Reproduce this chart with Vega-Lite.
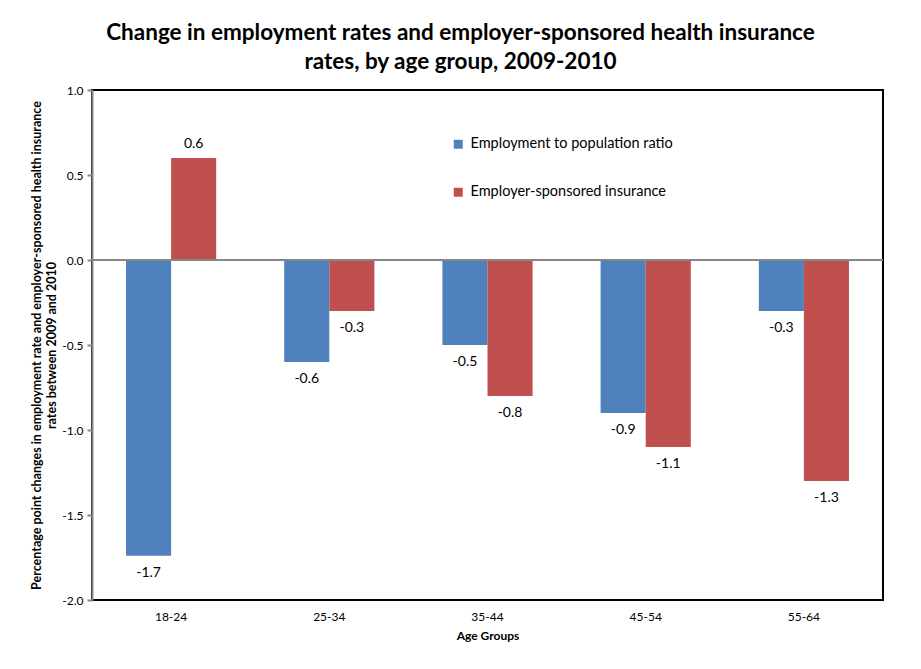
{
  "$schema": "https://vega.github.io/schema/vega-lite/v6.json",
  "width": 791,
  "height": 510,
  "autosize": {"type": "none"},
  "padding": {"left": 92, "top": 90, "right": 38, "bottom": 69},
  "background": "white",
  "title": {
    "text": ["Change in employment rates and employer-sponsored health insurance", "rates, by age group, 2009-2010"],
    "font": "Lato",
    "fontSize": 22.5,
    "fontWeight": "bold",
    "color": "black",
    "lineHeight": 29,
    "anchor": "middle",
    "frame": "group",
    "dx": -27,
    "offset": 11
  },
  "config": {
    "view": {"stroke": "black", "strokeWidth": 2},
    "font": "Lato",
    "locale": {
      "number": {"decimal": ".", "thousands": ",", "grouping": [3], "currency": ["$", ""], "minus": "-"}
    }
  },
  "data": {
    "values": [
      {"age": "18-24", "series": "Employment to population ratio", "value": -1.74},
      {"age": "18-24", "series": "Employer-sponsored insurance", "value": 0.6},
      {"age": "25-34", "series": "Employment to population ratio", "value": -0.6},
      {"age": "25-34", "series": "Employer-sponsored insurance", "value": -0.3},
      {"age": "35-44", "series": "Employment to population ratio", "value": -0.5},
      {"age": "35-44", "series": "Employer-sponsored insurance", "value": -0.8},
      {"age": "45-54", "series": "Employment to population ratio", "value": -0.9},
      {"age": "45-54", "series": "Employer-sponsored insurance", "value": -1.1},
      {"age": "55-64", "series": "Employment to population ratio", "value": -0.3},
      {"age": "55-64", "series": "Employer-sponsored insurance", "value": -1.3}
    ]
  },
  "encoding": {
    "x": {
      "field": "age",
      "type": "nominal",
      "scale": {"paddingInner": 0.43, "paddingOuter": 0.215},
      "axis": {
        "title": "Age Groups",
        "titleFont": "Lato",
        "titleFontSize": 12,
        "titleFontWeight": "bold",
        "titleColor": "black",
        "titlePadding": 8,
        "labelAngle": 0,
        "labelFont": "Lato",
        "labelFontSize": 12,
        "labelColor": "black",
        "labelPadding": 11,
        "domain": false,
        "ticks": false
      }
    },
    "xOffset": {
      "field": "series",
      "type": "nominal",
      "sort": ["Employment to population ratio", "Employer-sponsored insurance"]
    },
    "y": {
      "field": "value",
      "type": "quantitative",
      "scale": {"domain": [-2, 1], "nice": false, "zero": false},
      "axis": {
        "values": [-2, -1.5, -1, -0.5, 0, 0.5, 1],
        "format": ".1f",
        "grid": false,
        "title": ["Percentage point changes in employment rate and employer-sponsored health insurance", "rates between 2009 and 2010"],
        "titleFont": "Lato",
        "titleFontSize": 12.5,
        "titleFontWeight": "bold",
        "titleColor": "black",
        "titleLineHeight": 15,
        "titlePadding": 3,
        "titleLimit": 600,
        "titleAlign": "center",
        "titleAnchor": "middle",
        "labelFont": "Lato",
        "labelFontSize": 12,
        "labelColor": "black",
        "labelPadding": 4,
        "domainColor": "#868686",
        "domainWidth": 2,
        "tickColor": "#868686",
        "tickWidth": 2,
        "tickSize": 5
      }
    }
  },
  "layer": [
    {
      "mark": {"type": "bar"},
      "encoding": {
        "color": {
          "field": "series",
          "type": "nominal",
          "sort": ["Employment to population ratio", "Employer-sponsored insurance"],
          "scale": {
            "domain": ["Employment to population ratio", "Employer-sponsored insurance"],
            "range": ["#4F81BD", "#C0504D"]
          },
          "legend": {
            "title": null,
            "orient": "none",
            "legendX": 359,
            "legendY": 47,
            "symbolType": "square",
            "symbolSize": 81,
            "symbolStrokeWidth": 0,
            "labelFont": "Lato",
            "labelFontSize": 14.5,
            "labelColor": "black",
            "labelOffset": 5,
            "labelLimit": 400,
            "rowPadding": 33
          }
        }
      }
    },
    {
      "mark": {"type": "rule", "color": "#868686", "strokeWidth": 2},
      "encoding": {"y": {"datum": 0}, "x": null, "xOffset": null}
    },
    {
      "transform": [{"filter": "datum.value < 0"}],
      "mark": {"type": "text", "baseline": "top", "dy": 10, "fontSize": 14, "font": "Lato", "color": "black"},
      "encoding": {"text": {"field": "value", "type": "quantitative", "format": ".1f"}}
    },
    {
      "transform": [{"filter": "datum.value >= 0"}],
      "mark": {"type": "text", "baseline": "bottom", "dy": -7, "fontSize": 14, "font": "Lato", "color": "black"},
      "encoding": {"text": {"field": "value", "type": "quantitative", "format": ".1f"}}
    }
  ]
}
